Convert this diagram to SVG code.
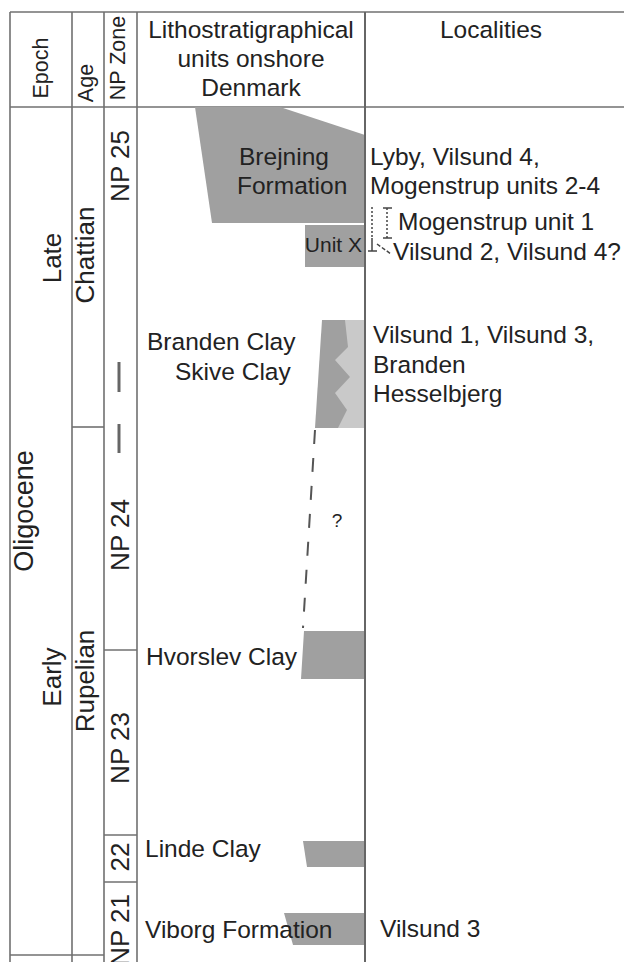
<svg xmlns="http://www.w3.org/2000/svg" width="624" height="962" viewBox="0 0 624 962">
<style>
.t{font-family:"Liberation Sans",Arial,sans-serif;fill:#222;font-size:24.5px}
.h{font-family:"Liberation Sans",Arial,sans-serif;fill:#222;font-size:24.5px;text-anchor:middle}
.rh{font-family:"Liberation Sans",Arial,sans-serif;fill:#222;font-size:21.5px;text-anchor:middle}
.rb{font-family:"Liberation Sans",Arial,sans-serif;fill:#222;font-size:26px;text-anchor:middle}
.ln{stroke:#707070;stroke-width:1.6;fill:none}
.dk{fill:#a0a0a0}
.lt{fill:#c9c9c9}
</style>
<rect width="624" height="962" fill="#fff"/>
<g id="table">
<line class="ln" x1="10" y1="12" x2="624" y2="12"/>
<line class="ln" x1="10" y1="107" x2="624" y2="107"/>
<line class="ln" x1="10" y1="12" x2="10" y2="962"/>
<line class="ln" x1="72" y1="12" x2="72" y2="962"/>
<line class="ln" x1="104" y1="12" x2="104" y2="962"/>
<line class="ln" x1="137" y1="12" x2="137" y2="962"/>
<line class="ln" x1="72" y1="427" x2="104" y2="427"/>
<line class="ln" x1="104" y1="650" x2="137" y2="650"/>
<line class="ln" x1="104" y1="835" x2="137" y2="835"/>
<line class="ln" x1="104" y1="882" x2="137" y2="882"/>
<line class="ln" x1="10" y1="955" x2="104" y2="955"/>
<line x1="119" y1="362" x2="119" y2="392" stroke="#666" stroke-width="3"/>
<line x1="119" y1="424" x2="119" y2="453" stroke="#666" stroke-width="3"/>
</g>
<g id="header">
<text class="rh" transform="translate(48,68) rotate(-90)">Epoch</text>
<text class="rh" transform="translate(93,83) rotate(-90)">Age</text>
<text class="rh" transform="translate(125,58) rotate(-90)">NP Zone</text>
<text class="h" x="251" y="38">Lithostratigraphical</text>
<text class="h" x="251" y="67">units onshore</text>
<text class="h" x="251" y="96">Denmark</text>
<text class="h" x="491" y="38">Localities</text>
</g>
<g id="chrono">
<text class="rb" transform="translate(33,511) rotate(-90)" style="font-size:27px">Oligocene</text>
<text class="rb" transform="translate(61,258) rotate(-90)">Late</text>
<text class="rb" transform="translate(61,677) rotate(-90)">Early</text>
<text class="rb" transform="translate(94,255) rotate(-90)">Chattian</text>
<text class="rb" transform="translate(94,681) rotate(-90)">Rupelian</text>
<text class="rb" transform="translate(129,166) rotate(-90)">NP 25</text>
<text class="rb" transform="translate(129,535) rotate(-90)">NP 24</text>
<text class="rb" transform="translate(129,748) rotate(-90)">NP 23</text>
<text class="rb" transform="translate(129,857) rotate(-90)">22</text>
<text class="rb" transform="translate(129,930) rotate(-90)">NP 21</text>
</g>
<g id="brejning">
<polygon class="dk" points="195,107 280,107 365,135 365,223 212,223"/>
<text class="t" x="239" y="165">Brejning</text>
<text class="t" x="237" y="194">Formation</text>
</g>
<g id="unitx">
<rect class="dk" x="305" y="225" width="60" height="42"/>
<text class="t" x="362" y="252" style="font-size:21px;text-anchor:end">Unit X</text>
</g>
<g id="branden">
<polygon class="dk" points="322,320 365,320 365,428 315,428"/>
<polygon class="lt" points="345,320 365,320 365,428 338,428 347,410 335,393 350,377 335,360 348,347"/>
<text class="t" x="147" y="350">Branden Clay</text>
<text class="t" x="175" y="380">Skive Clay</text>
</g>
<g id="hvorslev">
<polygon class="dk" points="304,631 365,631 365,679 301,679"/>
<text class="t" x="146" y="665">Hvorslev Clay</text>
</g>
<g id="linde">
<polygon class="dk" points="303,841 365,841 365,867 307,867"/>
<text class="t" x="145" y="857">Linde Clay</text>
</g>
<g id="viborg">
<polygon class="dk" points="284,913 365,913 365,945 293,945"/>
<text class="t" x="145" y="938">Viborg Formation</text>
</g>
<g id="localities">
<text class="t" x="370" y="165">Lyby, Vilsund 4,</text>
<text class="t" x="370" y="194">Mogenstrup units 2-4</text>
<text class="t" x="398" y="230">Mogenstrup unit 1</text>
<text class="t" x="393" y="260">Vilsund 2, Vilsund 4?</text>
<text class="t" x="373" y="343">Vilsund 1, Vilsund 3,</text>
<text class="t" x="373" y="373">Branden</text>
<text class="t" x="373" y="402">Hesselbjerg</text>
<text class="t" x="380" y="937">Vilsund 3</text>
</g>
<g id="connectors">
<line x1="365" y1="12" x2="365" y2="962" stroke="#666" stroke-width="2"/>
<line x1="315" y1="430" x2="303" y2="628" stroke="#555" stroke-width="2" stroke-dasharray="14 14"/>
<text class="t" x="337" y="527" style="font-size:19px;text-anchor:middle">?</text>
<line x1="372" y1="207" x2="372" y2="238" stroke="#444" stroke-width="1.5" stroke-dasharray="2 2"/>
<line x1="372" y1="238" x2="372" y2="251" stroke="#444" stroke-width="1.5"/>
<line x1="368" y1="251" x2="377" y2="251" stroke="#444" stroke-width="1.5"/>
<line x1="377" y1="244" x2="391" y2="254" stroke="#444" stroke-width="1.5" stroke-dasharray="4 2"/>
<line x1="383" y1="208" x2="392" y2="208" stroke="#444" stroke-width="1.5"/>
<line x1="387" y1="208" x2="387" y2="238" stroke="#444" stroke-width="1.5" stroke-dasharray="2 2"/>
<line x1="383" y1="238" x2="392" y2="238" stroke="#444" stroke-width="1.5"/>
</g>
</svg>
